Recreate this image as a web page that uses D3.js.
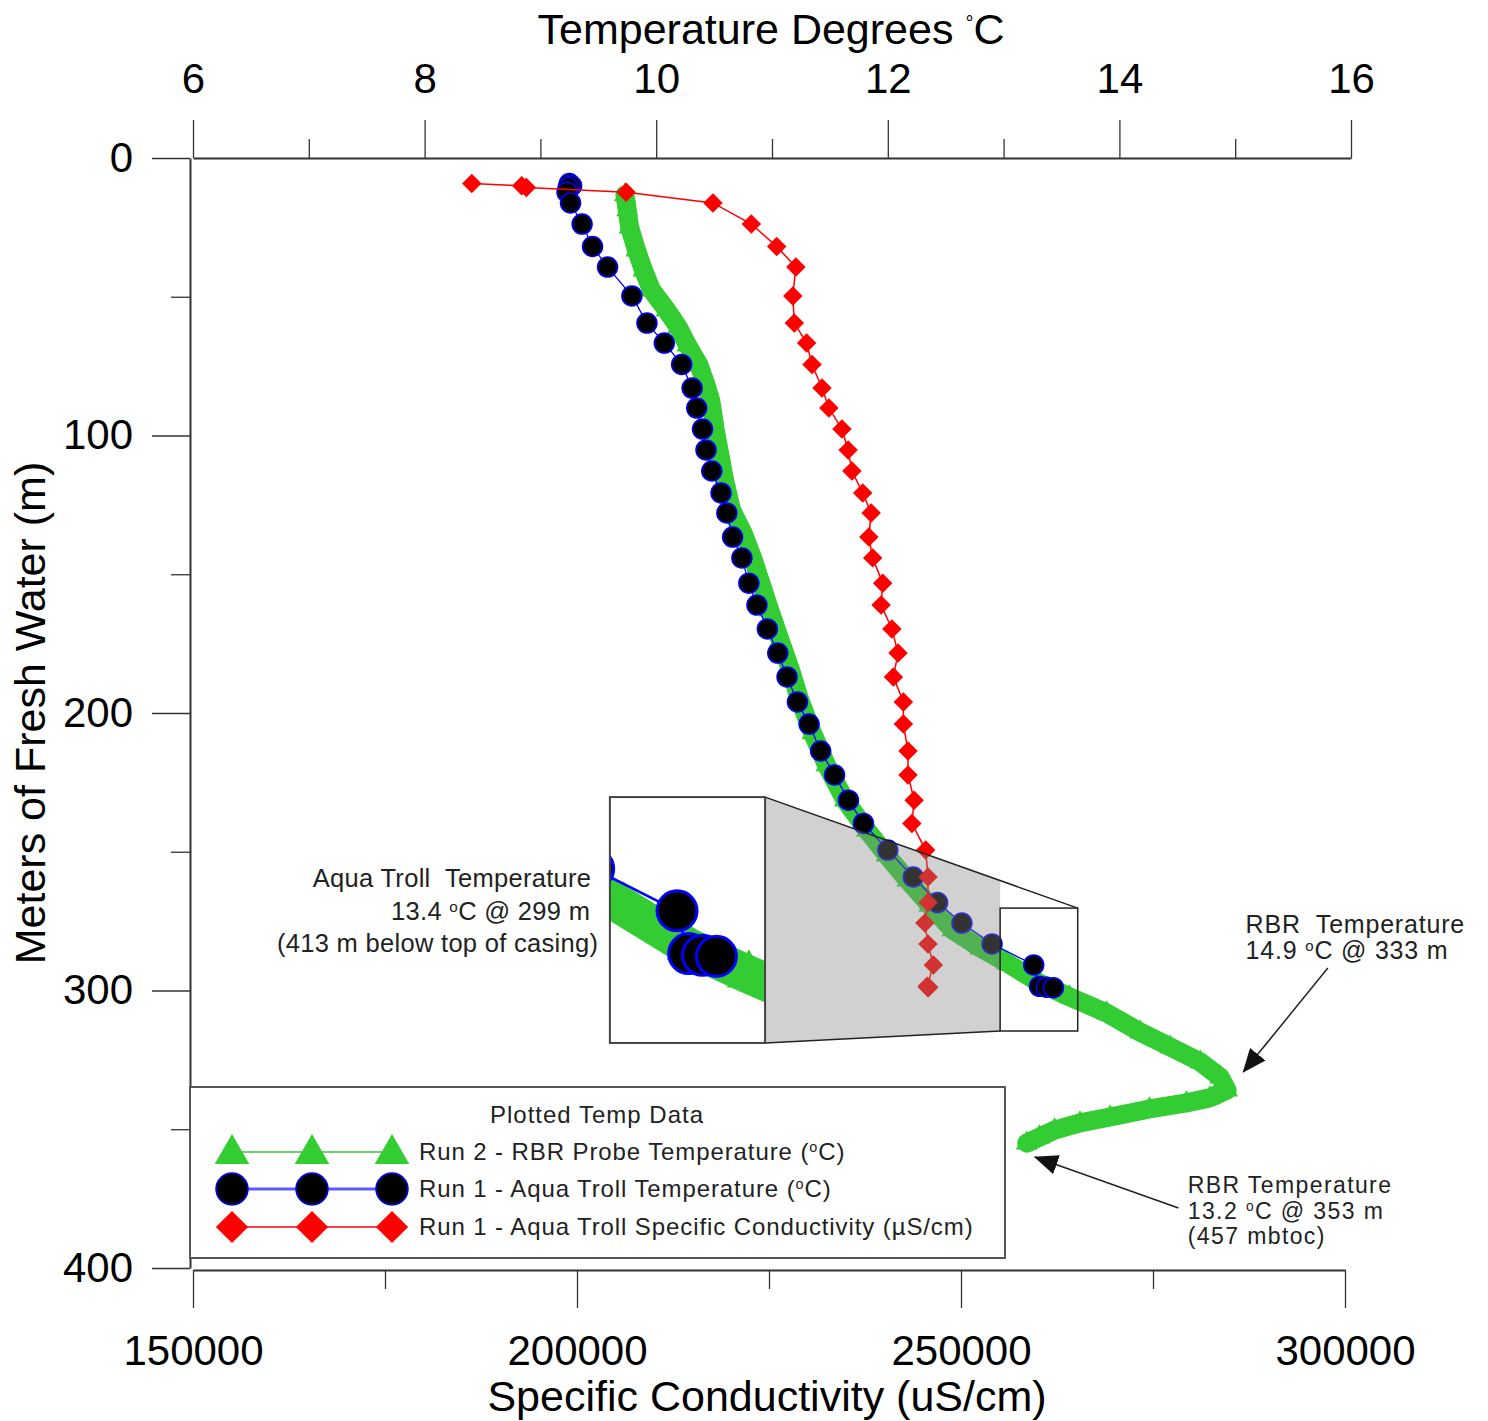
<!DOCTYPE html>
<html>
<head>
<meta charset="utf-8">
<script src="https://cdn.jsdelivr.net/npm/d3@7"></script>
<style>
  body { margin: 0; background: #fff; }
  text { font-family: "Liberation Sans", Arial, sans-serif; white-space: pre; }
</style>
</head>
<body>
<div id="chart"></div>
<script>
// Run 1 - Aqua Troll (depth in m, temperature in C, specific conductivity in uS/cm)
const trollDepth = [9.2, 10.0, 10.6, 12.3, 16.2, 23.8, 31.9, 39.3, 49.7, 59.5, 66.7, 74.4, 82.9, 90.1,
  97.7, 105.2, 112.8, 120.7, 127.9, 136.6, 144.1, 153.2, 161.1, 169.7, 178.4, 187.0, 196.0, 204.0,
  213.7, 222.3, 231.4, 239.8, 249.4, 259.1, 268.3, 275.7, 283.2, 290.8, 298.5, 298.8, 299.0];
const trollTemp = [9.25, 9.27, 9.24, 9.23, 9.26, 9.36, 9.45, 9.58, 9.79, 9.92, 10.07, 10.22, 10.31, 10.35,
  10.40, 10.43, 10.48, 10.56, 10.61, 10.66, 10.74, 10.80, 10.87, 10.96, 11.05, 11.13, 11.22, 11.32,
  11.42, 11.54, 11.66, 11.79, 12.00, 12.22, 12.43, 12.64, 12.90, 13.26, 13.31, 13.37, 13.43];
const trollCond = [186300, 192800, 193400, 206400, 217700, 222700, 226000, 228500, 228100, 228300, 229900,
  230600, 231900, 232800, 234500, 235300, 235800, 237200, 238300, 238000, 238500, 239800, 239600,
  241000, 241800, 241200, 242500, 242500, 243100, 243100, 243900, 243600, 245400, 245700, 245700,
  245300, 245700, 246400, 245600, 245800, 245700];

// Run 2 - RBR probe (depth in m, temperature in C)
const rbrDepth = [13.3, 18.7, 24.9, 33.2, 40.4, 47.6, 54.8, 60.9, 67.4, 74.6, 81.8, 87.2, 98.0, 107.0,
  116.0, 126.8, 135.1, 144.9, 153.9, 162.9, 173.7, 184.5, 195.3, 207.2, 218.7, 231.4, 242.2, 251.2,
  260.2, 269.2, 278.2, 284.7, 290.1, 297.3, 302.3, 308.1, 315.0, 320.4, 325.8, 331.2, 335.9, 338.7,
  340.5, 342.7, 345.6, 347.7, 350.3, 352.8, 355.0];
const rbrTemp = [9.73, 9.75, 9.77, 9.83, 9.89, 9.96, 10.09, 10.19, 10.27, 10.37, 10.43, 10.47, 10.51, 10.55,
  10.59, 10.65, 10.75, 10.84, 10.91, 10.98, 11.07, 11.16, 11.24, 11.35, 11.47, 11.63, 11.82, 11.99,
  12.17, 12.36, 12.56, 12.80, 13.03, 13.31, 13.57, 13.89, 14.18, 14.44, 14.70, 14.87, 14.93, 14.78,
  14.58, 14.26, 13.92, 13.66, 13.44, 13.31, 13.20];

// axis ticks
const tempMajor = [6, 8, 10, 12, 14, 16];
const tempMinor = [7, 9, 11, 13, 15];
const condMajor = [150000, 200000, 250000, 300000];
const condMinor = [175000, 225000, 275000];
const depthMajor = [0, 100, 200, 300, 400];
const depthMinor = [50, 150, 250, 350];

const legendLabels = [
  "Run 2 - RBR Probe Temperature (",
  "Run 1 - Aqua Troll Temperature (",
  "Run 1 - Aqua Troll Specific Conductivity (\u00b5S/cm)"
];

// zoom inset: box in data units that is magnified, and where the magnified copy sits
const zoomBox = { t0: 12.97, t1: 13.64, d0: 270.3, d1: 314.6 };
const insetAt = { t: 9.6, d: 230.3 };
const zoomK = 2;

const W = 1488, H = 1421;
const green = "#33cc33", red = "#ff0000", blue = "#0000ff";

const svg = d3.select("#chart").append("svg")
  .attr("width", W).attr("height", H);

const x = d3.scaleLinear().domain([6, 16]).range([193, 1351]);
const xc = d3.scaleLinear().domain([150000, 300000]).range([193, 1345]);
const y = d3.scaleLinear().domain([0, 400]).range([158, 1268]);

const rbr = rbrDepth.map((d, i) => ({ d: d, t: rbrTemp[i] }));
const troll = trollDepth.map((d, i) => ({ d: d, t: trollTemp[i], c: trollCond[i] }));

// arrowhead
svg.append("defs").append("marker")
  .attr("id", "arrow")
  .attr("markerUnits", "userSpaceOnUse")
  .attr("markerWidth", 24).attr("markerHeight", 20)
  .attr("refX", 23).attr("refY", 10)
  .attr("orient", "auto")
  .append("path").attr("d", "M0,0L24,10L0,20Z").attr("fill", "#111");

// draws the three series into a group (used twice: main plot and zoomed inset)
function drawSeries(g) {
  g.append("path")
    .datum(rbr)
    .attr("fill", "none")
    .attr("stroke", green)
    .attr("stroke-width", 19)
    .attr("stroke-linejoin", "round")
    .attr("stroke-linecap", "round")
    .attr("d", d3.line().x(d => x(d.t)).y(d => y(d.d)));
  g.selectAll(".tri")
    .data(rbr)
    .join("path")
    .attr("class", "tri")
    .attr("d", d3.symbol(d3.symbolTriangle, 210))
    .attr("transform", d => `translate(${x(d.t)},${y(d.d)})`)
    .attr("fill", green);

  g.append("path")
    .datum(troll)
    .attr("fill", "none")
    .attr("stroke", blue)
    .attr("stroke-width", 1.3)
    .attr("d", d3.line().x(d => x(d.t)).y(d => y(d.d)));
  g.selectAll(".dot")
    .data(troll)
    .join("circle")
    .attr("class", "dot")
    .attr("cx", d => x(d.t))
    .attr("cy", d => y(d.d))
    .attr("r", 10)
    .attr("fill", "#000")
    .attr("stroke", blue)
    .attr("stroke-width", 1.5);

  g.append("path")
    .datum(troll)
    .attr("fill", "none")
    .attr("stroke", red)
    .attr("stroke-width", 1.5)
    .attr("d", d3.line().x(d => xc(d.c)).y(d => y(d.d)));
  g.selectAll(".dia")
    .data(troll)
    .join("path")
    .attr("class", "dia")
    .attr("d", d3.symbol(d3.symbolSquare, 190))
    .attr("transform", d => `translate(${xc(d.c)},${y(d.d)}) rotate(45)`)
    .attr("fill", red);
}

drawSeries(svg.append("g"));

// ---- zoom inset ----
const zx0 = x(zoomBox.t0), zx1 = x(zoomBox.t1), zy0 = y(zoomBox.d0), zy1 = y(zoomBox.d1);
const ix0 = x(insetAt.t), iy0 = y(insetAt.d);
const ix1 = ix0 + zoomK * (zx1 - zx0), iy1 = iy0 + zoomK * (zy1 - zy0);
const tTop = (zx0 - ix1) / (zx1 - ix1);
const yTopAtBox = iy0 + tTop * (zy0 - iy0);

svg.append("polygon")
  .attr("points", [[ix1, iy0], [zx0, yTopAtBox], [zx0, zy1], [ix1, iy1]].join(" "))
  .attr("fill", "#858585")
  .attr("fill-opacity", 0.38);

svg.append("line")
  .attr("x1", ix1).attr("y1", iy0).attr("x2", zx1).attr("y2", zy0)
  .attr("stroke", "#222").attr("stroke-width", 1.5);
svg.append("line")
  .attr("x1", ix1).attr("y1", iy1).attr("x2", zx0).attr("y2", zy1)
  .attr("stroke", "#222").attr("stroke-width", 1.5);

svg.append("clipPath").attr("id", "insetClip")
  .append("rect")
  .attr("x", ix0).attr("y", iy0).attr("width", ix1 - ix0).attr("height", iy1 - iy0);

svg.append("rect")
  .attr("x", ix0).attr("y", iy0).attr("width", ix1 - ix0).attr("height", iy1 - iy0)
  .attr("fill", "#fff");

const insetG = svg.append("g").attr("clip-path", "url(#insetClip)")
  .append("g")
  .attr("transform", `translate(${ix0 - zoomK * zx0},${iy0 - zoomK * zy0}) scale(${zoomK})`);
drawSeries(insetG);

svg.append("rect")
  .attr("x", ix0).attr("y", iy0).attr("width", ix1 - ix0).attr("height", iy1 - iy0)
  .attr("fill", "none").attr("stroke", "#444").attr("stroke-width", 2);
svg.append("rect")
  .attr("x", zx0).attr("y", zy0).attr("width", zx1 - zx0).attr("height", zy1 - zy0)
  .attr("fill", "none").attr("stroke", "#222").attr("stroke-width", 1.5);

// ---- axes ----
function styleAxis(g, fontSize) {
  g.selectAll("path.domain").attr("stroke", "#333").attr("stroke-width", 2);
  g.selectAll(".tick line").attr("stroke", "#333").attr("stroke-width", 1.3);
  g.selectAll("text").attr("fill", "#000").style("font-size", fontSize + "px")
    .style("font-family", "'Liberation Sans', Arial, sans-serif");
}

const topAxis = svg.append("g").attr("transform", "translate(0,158)")
  .call(d3.axisTop(x).tickValues(tempMajor).tickSize(38).tickSizeOuter(0).tickPadding(27));
styleAxis(topAxis, 42);
const topMinor = svg.append("g").attr("transform", "translate(0,158)")
  .call(d3.axisTop(x).tickValues(tempMinor).tickSize(19).tickFormat(""));
topMinor.select(".domain").remove();
styleAxis(topMinor, 42);

const botAxis = svg.append("g").attr("transform", "translate(0,1270)")
  .call(d3.axisBottom(xc).tickValues(condMajor).tickSize(38).tickSizeOuter(0).tickPadding(27)
    .tickFormat(d3.format("d")));
styleAxis(botAxis, 42);
const botMinor = svg.append("g").attr("transform", "translate(0,1270)")
  .call(d3.axisBottom(xc).tickValues(condMinor).tickSize(19).tickFormat(""));
botMinor.select(".domain").remove();
styleAxis(botMinor, 42);

const leftAxis = svg.append("g").attr("transform", "translate(190,0)")
  .call(d3.axisLeft(y).tickValues(depthMajor).tickSize(38).tickSizeOuter(0).tickPadding(19));
styleAxis(leftAxis, 42);
const leftMinor = svg.append("g").attr("transform", "translate(190,0)")
  .call(d3.axisLeft(y).tickValues(depthMinor).tickSize(19).tickFormat(""));
leftMinor.select(".domain").remove();
styleAxis(leftMinor, 42);

// axis titles
const topTitle = svg.append("text")
  .attr("x", 771).attr("y", 44)
  .attr("text-anchor", "middle")
  .attr("font-size", 43)
  .text("Temperature Degrees ");
topTitle.append("tspan").attr("font-size", 20).attr("dy", -14).text("\u00b0");
topTitle.append("tspan").attr("dy", 14).text("C");

svg.append("text")
  .attr("x", 767).attr("y", 1411)
  .attr("text-anchor", "middle")
  .attr("font-size", 43)
  .text("Specific Conductivity (uS/cm)");

svg.append("text")
  .attr("transform", "translate(45,713) rotate(-90)")
  .attr("text-anchor", "middle")
  .attr("font-size", 43)
  .text("Meters of Fresh Water (m)");

// ---- annotations ----
function degLine(sel, before, after) {
  sel.append("tspan").text(before);
  sel.append("tspan").attr("font-size", "0.6em").attr("dy", "-0.55em").text("o");
  sel.append("tspan").attr("dy", "0.33em").text(after);
}

const aqua = svg.append("g").attr("fill", "#222").attr("font-size", 25.5)
  .attr("letter-spacing", 0.3).attr("text-anchor", "end");
aqua.append("text").attr("x", x(9.44)).attr("y", y(262.7)).text("Aqua Troll  Temperature");
degLine(aqua.append("text").attr("x", x(9.43)).attr("y", y(274.6)), "13.4 ", "C @ 299 m");
aqua.append("text").attr("x", x(9.50)).attr("y", y(286.1)).text("(413 m below top of casing)");

const rbrTop = svg.append("g").attr("fill", "#222").attr("font-size", 25).attr("letter-spacing", 0.8);
rbrTop.append("text").attr("x", x(15.09)).attr("y", y(279.3)).text("RBR  Temperature");
degLine(rbrTop.append("text").attr("x", x(15.09)).attr("y", y(288.6)), "14.9 ", "C @ 333 m");

const rbrBot = svg.append("g").attr("fill", "#222").attr("font-size", 23).attr("letter-spacing", 1.4);
rbrBot.append("text").attr("x", x(14.59)).attr("y", y(372.9)).text("RBR Temperature");
degLine(rbrBot.append("text").attr("x", x(14.59)).attr("y", y(382.2)), "13.2 ", "C @ 353 m");
rbrBot.append("text").attr("x", x(14.59)).attr("y", y(391.5)).text("(457 mbtoc)");

svg.append("line")
  .attr("x1", x(15.80)).attr("y1", y(291.9)).attr("x2", x(15.07)).attr("y2", y(329.4))
  .attr("stroke", "#222").attr("stroke-width", 1.5).attr("marker-end", "url(#arrow)");
svg.append("line")
  .attr("x1", x(14.51)).attr("y1", y(378.4)).attr("x2", x(13.27)).attr("y2", y(360.0))
  .attr("stroke", "#222").attr("stroke-width", 1.5).attr("marker-end", "url(#arrow)");

// ---- legend ----
const leg = svg.append("g");
leg.append("rect")
  .attr("x", 190).attr("y", 1087).attr("width", 815).attr("height", 171)
  .attr("fill", "#fff").attr("stroke", "#555").attr("stroke-width", 2);
leg.append("text")
  .attr("x", 597).attr("y", 1123)
  .attr("text-anchor", "middle").attr("font-size", 24).attr("fill", "#222")
  .attr("letter-spacing", 1)
  .text("Plotted Temp Data");

const legX = [232, 312, 392];
const legY = [1152, 1189, 1227];
const legStroke = [green, "#5a5aff", red];
const legStrokeW = [1.5, 3, 1.5];

legY.forEach((ly, i) => {
  leg.append("line")
    .attr("x1", legX[0]).attr("x2", legX[2]).attr("y1", ly).attr("y2", ly)
    .attr("stroke", legStroke[i]).attr("stroke-width", legStrokeW[i]);
  legX.forEach(lx => {
    if (i === 0) {
      leg.append("path").attr("d", d3.symbol(d3.symbolTriangle, 520))
        .attr("transform", `translate(${lx},${ly + 2})`).attr("fill", green);
    } else if (i === 1) {
      leg.append("circle").attr("cx", lx).attr("cy", ly).attr("r", 16)
        .attr("fill", "#000").attr("stroke", blue).attr("stroke-width", 1.5);
    } else {
      leg.append("path").attr("d", d3.symbol(d3.symbolSquare, 520))
        .attr("transform", `translate(${lx},${ly}) rotate(45)`).attr("fill", red);
    }
  });
  const t = leg.append("text")
    .attr("x", 419).attr("y", ly + 8)
    .attr("font-size", 24).attr("fill", "#222").attr("letter-spacing", 0.9);
  if (i < 2) {
    degLine(t, legendLabels[i], "C)");
  } else {
    t.text(legendLabels[i]);
  }
});
</script>
</body>
</html>
